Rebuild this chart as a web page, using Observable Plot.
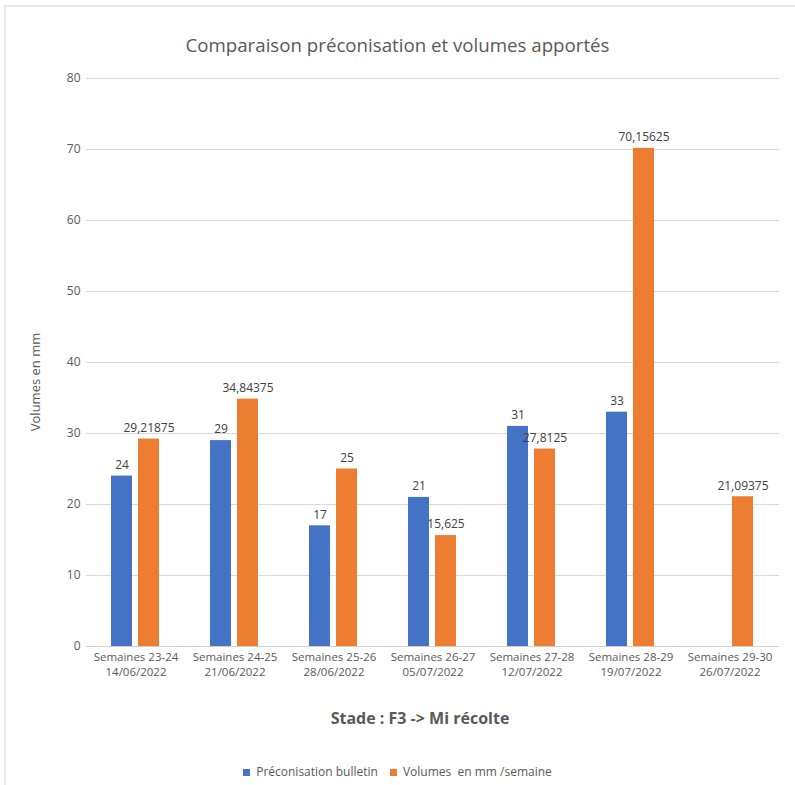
<!DOCTYPE html>
<html>
<head>
<meta charset="utf-8">
<script src="https://cdn.jsdelivr.net/npm/d3@7"></script>
<script src="https://cdn.jsdelivr.net/npm/@observablehq/plot@0.6"></script>
<style>
  html, body { margin: 0; padding: 0; background: #fff; overflow: hidden; }
  #page { position: relative; width: 795px; height: 785px; font-family: "Open Sans", sans-serif; color: #595959; }
  #frame { position: absolute; left: 4px; top: 5px; width: 820px; height: 820px; border: 2px solid #e8e8e8; box-sizing: border-box; pointer-events: none; }
  #title { height: 60px; box-sizing: border-box; padding-top: 33px; line-height: 24px; font-size: 18.7px; text-align: center; }
  #chart svg { display: block; }
  #xtitle { height: 43px; box-sizing: border-box; padding-top: 23px; padding-left: 45px; line-height: 20px; font-size: 16px; font-weight: bold; text-align: center; }
  #legend { padding-top: 34px; line-height: 20px; font-size: 12px; display: flex; justify-content: center; gap: 12px; }
  #legend .item { display: flex; align-items: center; gap: 6px; }
  #legend .sw { width: 7px; height: 7px; display: inline-block; }
  #ylabel { position: absolute; left: 35px; top: 382px; transform: translate(-50%, -50%) rotate(-90deg); font-size: 13px; white-space: nowrap; }
</style>
</head>
<body>
<div id="page">
  <div id="frame"></div>
  <div id="title">Comparaison préconisation et volumes apportés</div>
  <div id="chart"></div>
  <div id="xtitle">Stade : F3 -&gt; Mi récolte</div>
  <div id="legend"></div>
  <div id="ylabel">Volumes en mm</div>
</div>
<script>
// Weekly periods (two-line tick labels)
const categories = [
  "Semaines 23-24\n14/06/2022",
  "Semaines 24-25\n21/06/2022",
  "Semaines 25-26\n28/06/2022",
  "Semaines 26-27\n05/07/2022",
  "Semaines 27-28\n12/07/2022",
  "Semaines 28-29\n19/07/2022",
  "Semaines 29-30\n26/07/2022"
];
const seriesNames = ["Préconisation bulletin", "Volumes  en mm /semaine"];
const seriesColors = ["#4472C4", "#ED7D31"];
// Recommended volumes (mm); no recommendation for the last period
const preconisation = [24, 29, 17, 21, 31, 33, null];
// Applied volumes (mm / week)
const volumes = [29.21875, 34.84375, 25, 15.625, 27.8125, 70.15625, 21.09375];
const yTicks = [0, 10, 20, 30, 40, 50, 60, 70, 80];

const rows = categories.flatMap((c, i) => [
  {cat: c, serie: seriesNames[0], value: preconisation[i]},
  {cat: c, serie: seriesNames[1], value: volumes[i]}
]).filter(d => d.value != null);

const fmt = v => String(v).replace(".", ",");

const chart = Plot.plot({
  width: 795,
  height: 625,
  marginTop: 18,
  marginBottom: 39,
  marginLeft: 84,
  marginRight: 15,
  style: {fontFamily: "'Open Sans', sans-serif", fontSize: "12px", color: "#595959", background: "white"},
  fx: {domain: categories, padding: 0, label: null},
  x: {domain: seriesNames, paddingInner: 0.214, paddingOuter: 0.88, axis: null},
  y: {domain: [0, 80], label: null},
  color: {domain: seriesNames, range: seriesColors},
  marks: [
    Plot.gridY(yTicks, {stroke: "#d9d9d9", strokeOpacity: 1}),
    Plot.ruleY([0], {stroke: "#d0d0d0"}),
    Plot.axisY(yTicks, {tickSize: 0, tickPadding: 6, label: null, fill: "#595959", fontSize: 12}),
    Plot.axisFx({anchor: "bottom", tickSize: 0, tickPadding: 4, label: null, lineHeight: 1.3, fill: "#595959", fontSize: 11.5}),
    Plot.barY(rows, {fx: "cat", x: "serie", y: "value", fill: "serie"}),
    Plot.text(rows, {fx: "cat", x: "serie", y: "value", text: d => fmt(d.value), dy: -11, fill: "#404040", fontSize: 12})
  ]
});
document.getElementById("chart").append(chart);

const legend = document.getElementById("legend");
seriesNames.forEach((name, i) => {
  const item = document.createElement("span");
  item.className = "item";
  const sw = document.createElement("span");
  sw.className = "sw";
  sw.style.background = seriesColors[i];
  const label = document.createElement("span");
  label.textContent = name;
  label.style.whiteSpace = "pre";
  item.append(sw, label);
  legend.append(item);
});
</script>
</body>
</html>
